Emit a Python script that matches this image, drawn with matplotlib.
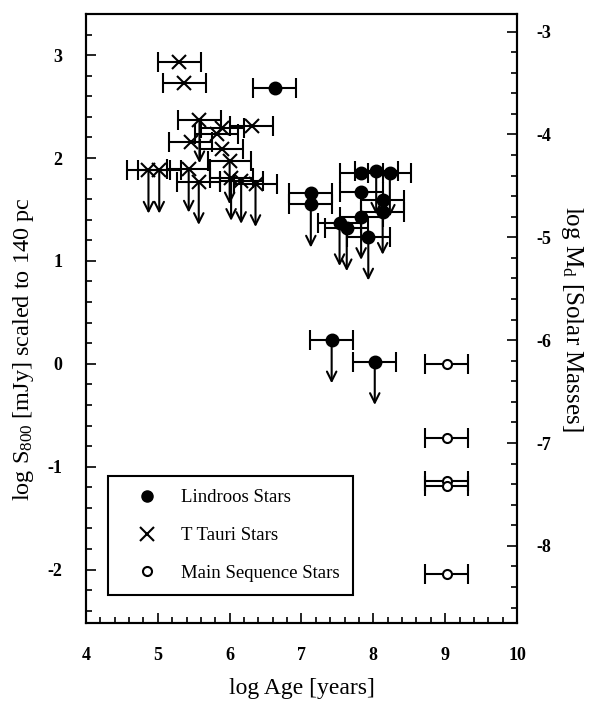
import matplotlib
matplotlib.use('Agg')
import matplotlib.pyplot as plt
from matplotlib.lines import Line2D
from matplotlib.ticker import MultipleLocator

# Lindroos stars: log age, log S800, upper limit flag
lindroos_age = [6.63, 7.13, 7.13, 7.83, 8.04, 8.23, 7.83, 8.13, 8.13, 7.83, 7.53, 7.63, 7.93, 7.42, 8.02]
lindroos_flux = [2.68, 1.66, 1.55, 1.85, 1.87, 1.85, 1.67, 1.59, 1.48, 1.43, 1.37, 1.32, 1.23, 0.23, 0.02]
lindroos_limit = [False, False, True, False, True, True, False, False, True, True, True, True, True, True, True]

# T Tauri stars
ttauri_age = [5.30, 5.37, 5.58, 6.31, 5.90, 5.82, 5.46, 5.89, 6.00, 4.87, 5.02, 5.43, 5.57, 6.02, 6.16, 6.36]
ttauri_flux = [2.93, 2.73, 2.37, 2.31, 2.29, 2.23, 2.16, 2.09, 1.97, 1.88, 1.88, 1.89, 1.77, 1.81, 1.78, 1.75]
ttauri_limit = [False, False, True, False, False, False, False, False, True, True, True, True, True, True, True, True]

# main sequence stars
ms_age = [9.02, 9.02, 9.02, 9.02, 9.02]
ms_flux = [0.0, -0.72, -1.14, -1.19, -2.04]
ms_limit = [False, False, False, False, False]

legend_labels = ['Lindroos Stars', 'T Tauri Stars', 'Main Sequence Stars']

age_err = 0.3
arrow_len = 0.42
mass_offset = -6.23   # log Md = log S800 + offset
flux_lim = (-2.52, 3.40)

plt.rcParams['font.family'] = ['Liberation Serif', 'DejaVu Serif']
plt.rcParams['mathtext.default'] = 'regular'
plt.rcParams['axes.unicode_minus'] = False


def plot_group(ax, age, flux, limit, marker, size, face):
    ax.errorbar(age, flux, xerr=age_err, fmt=marker, ms=size, mfc=face, mec='black',
                mew=1.5, ecolor='black', elinewidth=1.5, capsize=7, capthick=1.5)
    for x, y, lim in zip(age, flux, limit):
        if lim:
            ax.annotate('', xy=(x, y - arrow_len), xytext=(x, y),
                        arrowprops=dict(arrowstyle='->', lw=1.5, color='black',
                                        shrinkA=0, shrinkB=0, mutation_scale=17))


def style_ticks(axis):
    axis.tick_params(which='both', direction='in', width=1.2)
    axis.tick_params(which='major', length=7)
    axis.tick_params(which='minor', length=4)
    for lab in axis.get_xticklabels() + axis.get_yticklabels():
        lab.set_fontweight('bold')
        lab.set_fontsize(13)
    for sp in axis.spines.values():
        sp.set_linewidth(1.5)


fig = plt.figure(figsize=(5.97, 7.02), dpi=100)
ax = fig.add_axes([0.144, 0.1125, 0.722, 0.8675])

plot_group(ax, lindroos_age, lindroos_flux, lindroos_limit, 'o', 8.5, 'black')
plot_group(ax, ttauri_age, ttauri_flux, ttauri_limit, 'x', 10, 'none')
plot_group(ax, ms_age, ms_flux, ms_limit, 'o', 6.5, 'white')

ax.set_xlim(4, 10)
ax.set_ylim(*flux_lim)
ax.xaxis.set_major_locator(MultipleLocator(1))
ax.xaxis.set_minor_locator(MultipleLocator(0.2))
ax.yaxis.set_major_locator(MultipleLocator(1))
ax.yaxis.set_minor_locator(MultipleLocator(0.2))
ax.tick_params(which='both', top=False, right=False)
ax.tick_params(axis='x', pad=17)
ax.tick_params(axis='y', pad=17)
style_ticks(ax)

ax.set_xlabel('log Age [years]', fontsize=17, labelpad=10)
ax.set_ylabel('log S$_{800}$ [mJy] scaled to 140 pc', fontsize=17.5)
ax.yaxis.set_label_coords(-0.115, 0.45)

ax2 = ax.twinx()
ax2.set_ylim(flux_lim[0] + mass_offset, flux_lim[1] + mass_offset)
ax2.yaxis.set_major_locator(MultipleLocator(1))
ax2.yaxis.set_minor_locator(MultipleLocator(0.2))
ax2.tick_params(axis='y', pad=14)
style_ticks(ax2)
ax2.set_ylabel('log M$_d$ [Solar Masses]', fontsize=18, rotation=270, labelpad=24)

handles = [
    Line2D([], [], ls='none', marker='o', ms=8, color='black'),
    Line2D([], [], ls='none', marker='x', ms=10, mew=1.5, color='black'),
    Line2D([], [], ls='none', marker='o', ms=6.5, mfc='white', mec='black', mew=1.5),
]
leg = ax.legend(handles, legend_labels, loc='lower left', bbox_to_anchor=(0.051, 0.046),
                borderaxespad=0, fontsize=13.5, labelspacing=1.1, borderpad=0.7,
                handlelength=2.8, handletextpad=0.4, fancybox=False,
                edgecolor='black', framealpha=1)
leg.get_frame().set_linewidth(1.5)

fig.savefig('out.png', dpi=100)
